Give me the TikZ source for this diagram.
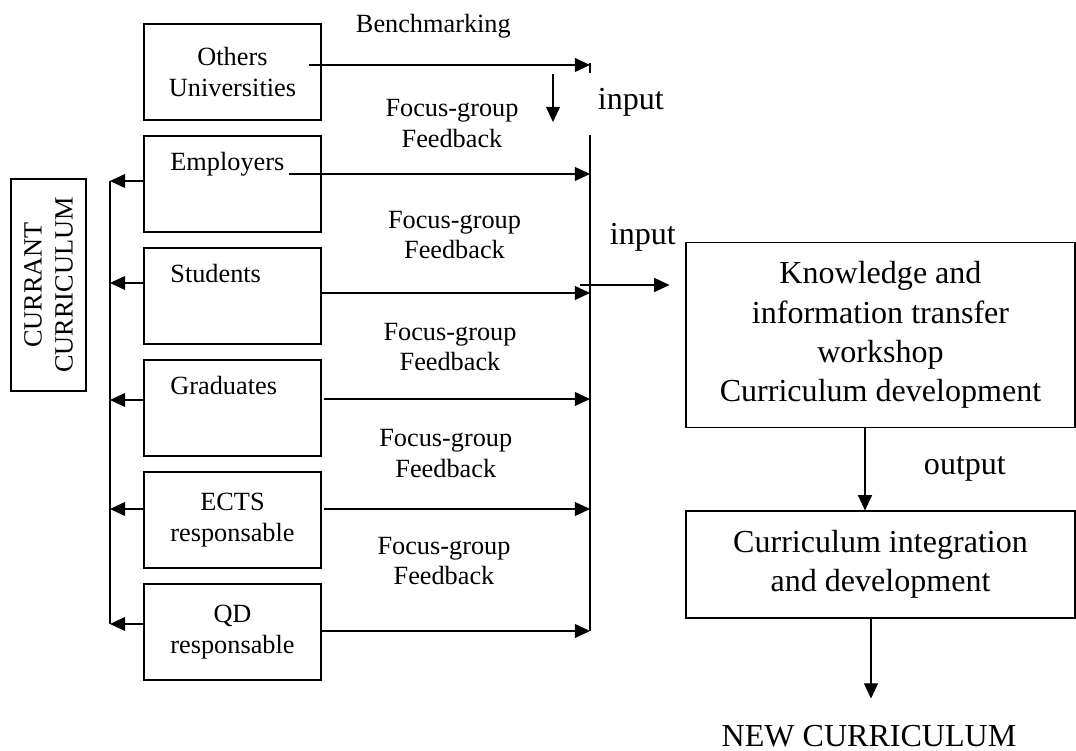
\documentclass[tikz,border=0pt]{standalone}
\usepackage{fontspec}
\setmainfont{Liberation Serif}
\usetikzlibrary{arrows.meta}

\begin{document}
\begin{tikzpicture}[>={Triangle[length=0.38cm,width=0.35cm]},
    every node/.style={font=\fontsize{18.7}{22}\selectfont},
    big/.style={font=\fontsize{22.8}{28}\selectfont},
    party/.style={draw, thick, minimum width=4.425cm, minimum height=2.4cm, align=center},
    stage/.style={draw, thick, big, minimum width=9.725cm, align=center}]
    \useasboundingbox (0,0) rectangle (26.9,18.775);

    % stakeholder boxes
    \node[party] (others) at (5.8125,16.975) {Others\\Universities};
    \node[party, below of=others, node distance=2.8cm] (employers) {};
    \node[party, below of=employers, node distance=2.8cm] (students) {};
    \node[party, below of=students, node distance=2.8cm] (graduates) {};
    \node[party, below of=graduates, node distance=2.8cm] (ects) {ECTS\\responsable};
    \node[party, below of=ects, node distance=2.8cm] (qd) {QD\\responsable};
    \node[anchor=base west] (employers-lbl) at ([xshift=0.55cm,yshift=-0.87cm]employers.north west) {Employers};
    \node[anchor=base west] (students-lbl) at ([xshift=0.55cm,yshift=-0.87cm]students.north west) {Students};
    \node[anchor=base west] (graduates-lbl) at ([xshift=0.55cm,yshift=-0.87cm]graduates.north west) {Graduates};

    \node[draw, thick, rotate=90, minimum width=5.3cm, minimum height=1.875cm, align=center] (currant) at (1.2125,11.65) {CURRANT\\CURRICULUM};

    \coordinate (ltop) at (2.75,14.25);
    \coordinate (lbot) at (2.75,3.175);
    \coordinate (rtop) at (14.75,15.4);
    \coordinate (rbot) at (14.75,3.0);
    \draw[thick] (ltop) -- (lbot);
    \draw[thick] (rtop) -- (rbot);

    % benchmarking
    \draw[->, thick] ([xshift=-0.325cm,yshift=0.175cm]others.east) -- ([yshift=0.175cm]others.east -| rtop) coordinate (bench);
    \draw[thick] ([yshift=0.05cm]bench) -- ([yshift=-0.2cm]bench);
    \node[anchor=base west] (bench-lbl) at (8.775,17.95) {Benchmarking};
    \draw[->, thick] ([xshift=-0.925cm,yshift=-0.225cm]bench) -- ++(0,-1.2);
    \node[big, anchor=base west] (input-a) at (14.825,16.025) {input};

    % feedback into the collector line
    \draw[->, thick] ([xshift=-0.825cm,yshift=0.25cm]employers.east) -- ([yshift=0.25cm]employers.east -| rtop);
    \draw[->, thick] ([yshift=0.075cm]students.east) -- ([yshift=0.075cm]students.east -| rtop);
    \draw[->, thick] ([xshift=0.05cm,yshift=0.225cm]graduates.east) -- ([yshift=0.225cm]graduates.east -| rtop);
    \draw[->, thick] ([xshift=0.05cm,yshift=0.275cm]ects.east) -- ([yshift=0.275cm]ects.east -| rtop);
    \draw[->, thick] ([xshift=-0.025cm,yshift=0.025cm]qd.east) -- ([yshift=0.025cm]qd.east -| rtop);

    \node[align=center] (fb1) at (11.3,15.675) {Focus-group\\Feedback};
    \node[align=center] (fb2) at (11.3625,12.9) {Focus-group\\Feedback};
    \node[align=center] (fb3) at (11.25,10.1) {Focus-group\\Feedback};
    \node[align=center] (fb4) at (11.145,7.4375) {Focus-group\\Feedback};
    \node[align=center] (fb5) at (11.1,4.75) {Focus-group\\Feedback};

    % back to the current curriculum
    \draw[->, thick] ([yshift=0.075cm]employers.west) -- ([yshift=0.075cm]employers.west -| ltop);
    \draw[->, thick] ([yshift=0.325cm]students.west) -- ([yshift=0.325cm]students.west -| ltop);
    \draw[->, thick] ([yshift=0.2cm]graduates.west) -- ([yshift=0.2cm]graduates.west -| ltop);
    \draw[->, thick] ([yshift=0.275cm]ects.west) -- ([yshift=0.275cm]ects.west -| ltop);
    \draw[->, thick] ([yshift=0.2cm]qd.west) -- ([yshift=0.2cm]qd.west -| ltop);

    % workshop and integration
    \node[stage, minimum height=4.625cm] (knowledge) at (22.0125,10.4) {Knowledge and\\information transfer\\workshop\\Curriculum development};
    \node[stage, minimum height=2.675cm, below of=knowledge, node distance=5.7375cm] (integration) {Curriculum integration\\and development};

    \draw[->, thick, shorten >=0.4cm] ([xshift=-0.25cm,yshift=1.25cm]knowledge.west -| rtop) -- ([yshift=1.25cm]knowledge.west);
    \node[big, anchor=base west] (input-b) at (15.125,12.65) {input};

    \draw[->, thick] ([xshift=-0.3875cm]knowledge.south) -- ([xshift=-0.3875cm]integration.north);
    \node[big, anchor=base west] (output) at (22.975,6.9) {output};

    \draw[->, thick] ([xshift=-0.2375cm]integration.south) -- ++(0,-2);
    \node[big, anchor=base] (newcur) at (21.725,0.12) {NEW CURRICULUM};
\end{tikzpicture}
\end{document}
